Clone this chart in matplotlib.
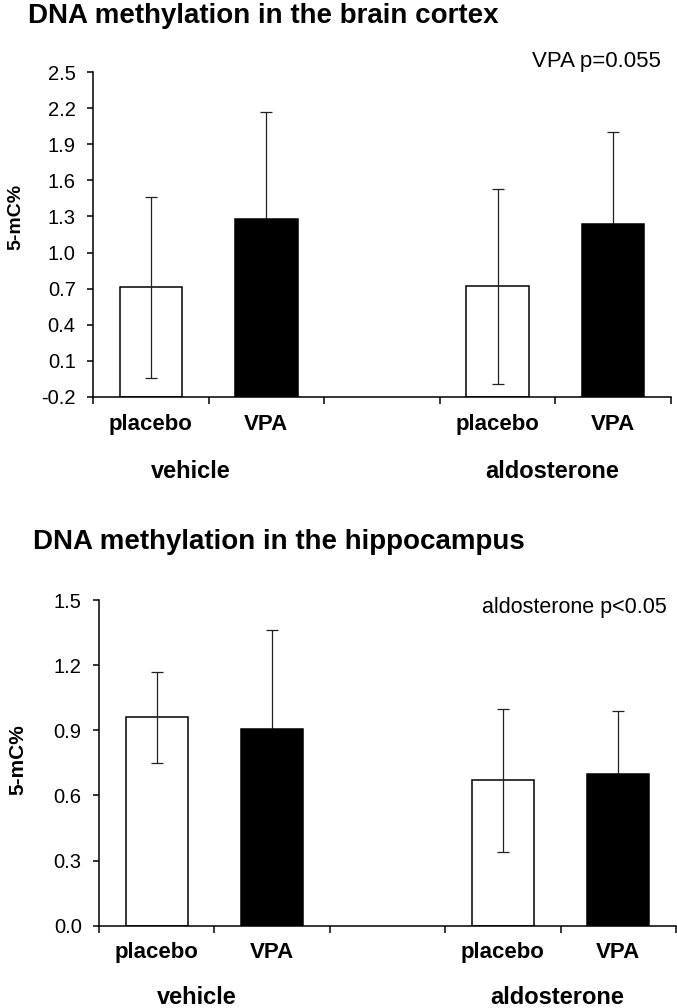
import numpy as np
import matplotlib
matplotlib.use("Agg")
import matplotlib.pyplot as plt

plt.rcParams['font.family'] = ['Liberation Sans', 'DejaVu Sans']

# group / treatment layout: slot 2 is an empty gap between the groups
positions = [0, 1, 3, 4]
treatments = ["placebo", "VPA", "placebo", "VPA"]
groups = ["vehicle", "aldosterone"]
group_x = [0.35, 3.47]
bar_colors = ["white", "black", "white", "black"]

cortex_mean = [0.71, 1.28, 0.72, 1.24]
cortex_sd = [0.75, 0.89, 0.81, 0.765]
cortex_ticks = [-0.2, 0.1, 0.4, 0.7, 1.0, 1.3, 1.6, 1.9, 2.2, 2.5]

hippo_mean = [0.96, 0.905, 0.67, 0.70]
hippo_sd = [0.21, 0.457, 0.33, 0.287]
hippo_ticks = [0.0, 0.3, 0.6, 0.9, 1.2, 1.5]

W, H = 677, 1008
fig = plt.figure(figsize=(W / 100, H / 100), dpi=100)


def panel(rect, mean, sd, ticks, lab_off, grp_off):
    ax = fig.add_axes(rect)
    base = ticks[0]
    heights = [m - base for m in mean]
    ax.bar(positions, heights, bottom=base, width=0.54, color=bar_colors,
           edgecolor="black", linewidth=1.1, zorder=2)
    # open bars: whisker drawn over the bar; filled bars: behind it
    for i in range(len(positions)):
        z = 3 if bar_colors[i] == "white" else 1
        ax.errorbar(positions[i], mean[i], yerr=sd[i], fmt="none",
                    ecolor="#222222", elinewidth=0.9, capsize=4,
                    capthick=0.9, zorder=z)
    ax.set_xlim(-0.5, 4.5)
    ax.set_ylim(ticks[0], ticks[-1])
    ax.set_yticks(ticks)
    ax.set_yticklabels(["%.1f" % t for t in ticks])
    ax.set_xticks(np.arange(-0.5, 5, 1.0))
    ax.set_xticklabels([])
    for s in ["top", "right"]:
        ax.spines[s].set_visible(False)
    for s in ["left", "bottom"]:
        ax.spines[s].set_linewidth(1.1)
        ax.spines[s].set_zorder(4)
    ax.tick_params(axis="y", direction="out", length=4.5, width=1.1,
                   labelsize=14.5, pad=8)
    ax.tick_params(axis="x", direction="out", length=5, width=1.1)
    for x, t in zip(positions, treatments):
        ax.annotate(t, xy=(x, 0), xycoords=("data", "axes fraction"),
                    xytext=(0, -lab_off), textcoords="offset points",
                    ha="center", va="center", fontsize=16, fontweight="bold")
    for x, g in zip(group_x, groups):
        ax.annotate(g, xy=(x, 0), xycoords=("data", "axes fraction"),
                    xytext=(0, -grp_off), textcoords="offset points",
                    ha="center", va="center", fontsize=17, fontweight="bold")
    return ax


panel([93 / W, 1 - 397 / H, 578 / W, 325 / H], cortex_mean, cortex_sd,
      cortex_ticks, 20, 54)
panel([99 / W, 1 - 925.7 / H, 577 / W, 325.7 / H], hippo_mean, hippo_sd,
      hippo_ticks, 19, 52)

fig.text(28 / W, 1 - 16 / H, "DNA methylation in the brain cortex",
         fontsize=20, fontweight="bold", va="center", ha="left")
fig.text(33 / W, 1 - 542 / H, "DNA methylation in the hippocampus",
         fontsize=20, fontweight="bold", va="center", ha="left")

fig.text(661 / W, 1 - 62 / H, "VPA p=0.055", fontsize=16,
         va="center", ha="right")
fig.text(667 / W, 1 - 607 / H, "aldosterone p<0.05", fontsize=15.5,
         va="center", ha="right")

fig.text(16 / W, 1 - 217 / H, "5-mC%", rotation=90, fontsize=14,
         fontweight="bold", va="center", ha="center")
fig.text(18 / W, 1 - 760 / H, "5-mC%", rotation=90, fontsize=15,
         fontweight="bold", va="center", ha="center")

fig.savefig("out.png", dpi=100)
